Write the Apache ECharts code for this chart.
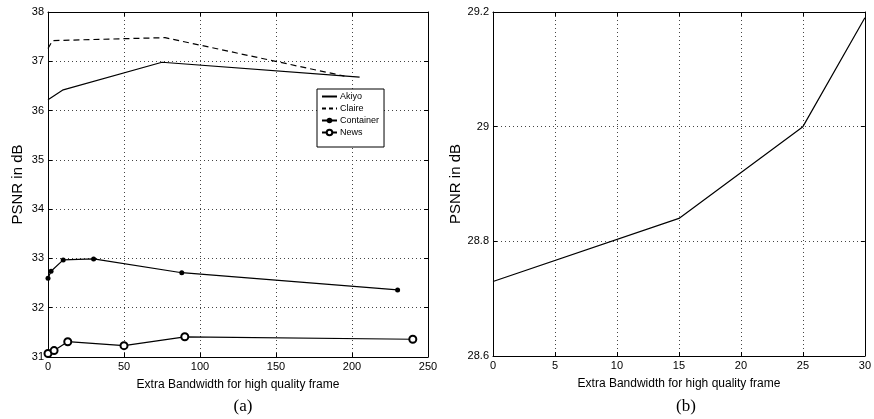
<!DOCTYPE html>
<html>
<head>
<meta charset="utf-8">
<script src="https://cdn.jsdelivr.net/npm/echarts@6/dist/echarts.min.js"></script>
<style>
html, body { margin: 0; padding: 0; background: #fff; }
#chart { width: 874px; height: 419px; }
</style>
</head>
<body>
<div id="chart"></div>
<script>
// (a) PSNR vs extra bandwidth, four sequences
const akiyoX = [0, 10, 75, 205]
const akiyoY = [36.22, 36.42, 36.98, 36.68]
const claireX = [0, 3, 77, 195]
const claireY = [37.26, 37.42, 37.48, 36.7]
const containerX = [0, 2, 10, 30, 88, 230]
const containerY = [32.6, 32.74, 32.97, 32.99, 32.71, 32.36]
const newsX = [0, 4, 13, 50, 90, 240]
const newsY = [31.07, 31.13, 31.31, 31.23, 31.41, 31.36]
// (b)
const rightX = [0, 15, 25, 30]
const rightY = [28.73, 28.84, 29.0, 29.19]

const pairs = (xs, ys) => xs.map((x, i) => [x, ys[i]])
const font = 'Liberation Sans, Arial, sans-serif'
const fmt = v => String(Number(v.toFixed(1)))

// main axis: labels, dotted grid, inward ticks
function mainAxis (extra) {
  return Object.assign({
    type: 'value',
    axisLine: { show: true, lineStyle: { color: '#000', width: 1 } },
    axisTick: { show: true, inside: true, length: 4, lineStyle: { color: '#000' } },
    axisLabel: { color: '#000', fontSize: 11, fontFamily: font, margin: 4, formatter: fmt },
    splitLine: { show: true, lineStyle: { color: '#444', type: [1, 3], width: 1 } },
    nameLocation: 'middle'
  }, extra)
}
// mirror axis for top / right box edges
function boxAxis (extra) {
  return Object.assign({
    type: 'value',
    axisLine: { show: true, onZero: false, lineStyle: { color: '#000', width: 1 } },
    axisTick: { show: true, inside: true, length: 4, lineStyle: { color: '#000' } },
    axisLabel: { show: false },
    splitLine: { show: false }
  }, extra)
}

const lineStyle = { color: '#000', width: 1.2 }
const xName = { color: '#000', fontFamily: font, fontSize: 12 }
const yName = { color: '#000', fontFamily: font, fontSize: 15 }
const capStyle = { fontFamily: 'Liberation Serif, Times New Roman, serif', fontSize: 17, fontWeight: 'normal', color: '#000' }

const chart = echarts.init(document.getElementById('chart'))
chart.setOption({
  animation: false,
  backgroundColor: '#fff',
  title: [
    { text: '(a)', left: 238, top: 393, textAlign: 'center', textStyle: capStyle },
    { text: '(b)', left: 681, top: 393, textAlign: 'center', textStyle: capStyle }
  ],
  grid: [
    { left: 48, top: 12, width: 380, height: 345 },
    { left: 493, top: 12, width: 376, height: 344 }
  ],
  legend: {
    data: [
      { name: 'Akiyo', itemStyle: { opacity: 0 } },
      { name: 'Claire', itemStyle: { opacity: 0 }, lineStyle: { type: [4, 3] } },
      { name: 'Container' },
      { name: 'News' }
    ],
    orient: 'vertical',
    left: 317,
    top: 89,
    itemWidth: 15,
    itemHeight: 7,
    itemGap: 3,
    padding: [3, 5, 10, 4],
    backgroundColor: '#fff',
    borderColor: '#000',
    borderWidth: 1,
    borderRadius: 0,
    textStyle: { fontSize: 9, fontFamily: font, color: '#000', padding: [0, 0, 0, -2] }
  },
  xAxis: [
    mainAxis({ gridIndex: 0, min: 0, max: 250, interval: 50, name: 'Extra Bandwidth for high quality frame',
      nameGap: 22, nameTextStyle: xName }),
    boxAxis({ gridIndex: 0, position: 'top', min: 0, max: 250, interval: 50 }),
    mainAxis({ gridIndex: 1, min: 0, max: 30, interval: 5, name: 'Extra Bandwidth for high quality frame',
      nameGap: 22, nameTextStyle: xName }),
    boxAxis({ gridIndex: 1, position: 'top', min: 0, max: 30, interval: 5 })
  ],
  yAxis: [
    mainAxis({ gridIndex: 0, min: 31, max: 38, interval: 1, name: 'PSNR in dB', nameGap: 23, nameTextStyle: yName }),
    boxAxis({ gridIndex: 0, position: 'right', min: 31, max: 38, interval: 1 }),
    mainAxis({ gridIndex: 1, min: 28.6, max: 29.2, interval: 0.2, name: 'PSNR in dB', nameGap: 26, nameTextStyle: yName }),
    boxAxis({ gridIndex: 1, position: 'right', min: 28.6, max: 29.2, interval: 0.2 })
  ],
  series: [
    { name: 'Akiyo', type: 'line', xAxisIndex: 0, yAxisIndex: 0, data: pairs(akiyoX, akiyoY),
      symbol: 'none', lineStyle, itemStyle: { color: '#000' } },
    { name: 'Claire', type: 'line', xAxisIndex: 0, yAxisIndex: 0, data: pairs(claireX, claireY),
      symbol: 'none', lineStyle: { color: '#000', width: 1.2, type: [6, 4] }, itemStyle: { color: '#000' } },
    { name: 'Container', type: 'line', xAxisIndex: 0, yAxisIndex: 0, data: pairs(containerX, containerY),
      symbol: 'circle', symbolSize: 5, lineStyle, itemStyle: { color: '#000' } },
    { name: 'News', type: 'line', xAxisIndex: 0, yAxisIndex: 0, data: pairs(newsX, newsY),
      symbol: 'emptyCircle', symbolSize: 7, lineStyle, itemStyle: { color: '#000', borderColor: '#000', borderWidth: 1 } },
    { name: 'b', type: 'line', xAxisIndex: 2, yAxisIndex: 2, data: pairs(rightX, rightY),
      symbol: 'none', lineStyle, itemStyle: { color: '#000' } }
  ]
})
</script>
</body>
</html>
